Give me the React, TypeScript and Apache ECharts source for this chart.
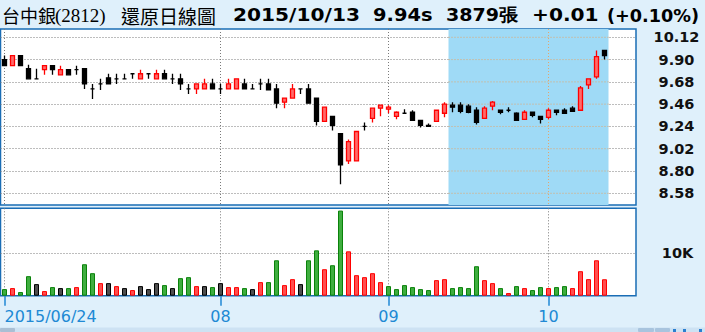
import React, { useEffect, useRef } from 'react';
import * as echarts from 'echarts';

const dates = [
  '2015/06/24', '2015/06/25', '2015/06/26', '2015/06/29', '2015/06/30',
  '2015/07/01', '2015/07/02', '2015/07/03', '2015/07/06', '2015/07/07', '2015/07/08', '2015/07/09',
  '2015/07/13', '2015/07/14', '2015/07/15', '2015/07/16', '2015/07/17', '2015/07/20', '2015/07/21',
  '2015/07/22', '2015/07/23', '2015/07/24', '2015/07/27', '2015/07/28', '2015/07/29', '2015/07/30', '2015/07/31',
  '2015/08/03', '2015/08/04', '2015/08/05', '2015/08/06', '2015/08/07', '2015/08/10', '2015/08/11',
  '2015/08/12', '2015/08/13', '2015/08/14', '2015/08/17', '2015/08/18', '2015/08/19', '2015/08/20',
  '2015/08/21', '2015/08/24', '2015/08/25', '2015/08/26', '2015/08/27', '2015/08/28', '2015/08/31',
  '2015/09/01', '2015/09/02', '2015/09/03', '2015/09/04', '2015/09/07', '2015/09/08', '2015/09/09',
  '2015/09/10', '2015/09/11', '2015/09/14', '2015/09/15', '2015/09/16', '2015/09/17', '2015/09/18',
  '2015/09/21', '2015/09/22', '2015/09/23', '2015/09/24', '2015/09/25', '2015/09/30',
  '2015/10/01', '2015/10/02', '2015/10/05', '2015/10/06', '2015/10/07', '2015/10/08', '2015/10/12', '2015/10/13',
];

const opens = [
  9.90, 9.84, 9.94, 9.81, 9.71, 9.80, 9.84, 9.75, 9.80, 9.80,
  9.81, 9.61, 9.66, 9.72, 9.71, 9.71, 9.76, 9.71, 9.76, 9.71,
  9.76, 9.71, 9.71, 9.61, 9.61, 9.61, 9.66, 9.61, 9.61, 9.61,
  9.66, 9.61, 9.66, 9.66, 9.61, 9.48, 9.52, 9.61, 9.61, 9.52,
  9.29, 9.34, 9.17, 8.90, 8.90, 9.24, 9.32, 9.42, 9.41, 9.34,
  9.37, 9.38, 9.30, 9.25, 9.29, 9.37, 9.45, 9.45, 9.44, 9.40,
  9.32, 9.44, 9.40, 9.40, 9.37, 9.31, 9.38, 9.34, 9.33, 9.40,
  9.40, 9.42, 9.40, 9.65, 9.73, 9.99,
];
const closes = [
  9.84, 9.94, 9.84, 9.71, 9.71, 9.84, 9.80, 9.80, 9.75, 9.80,
  9.66, 9.61, 9.66, 9.66, 9.71, 9.71, 9.76, 9.76, 9.76, 9.76,
  9.71, 9.71, 9.66, 9.61, 9.66, 9.66, 9.61, 9.61, 9.66, 9.71,
  9.61, 9.61, 9.66, 9.60, 9.47, 9.52, 9.61, 9.61, 9.47, 9.29,
  9.43, 9.25, 8.86, 9.09, 9.19, 9.24, 9.42, 9.45, 9.43, 9.38,
  9.37, 9.30, 9.25, 9.24, 9.40, 9.46, 9.43, 9.39, 9.38, 9.28,
  9.42, 9.48, 9.38, 9.40, 9.30, 9.38, 9.35, 9.31, 9.40, 9.38,
  9.37, 9.39, 9.62, 9.71, 9.93, 9.94,
];
const lows = [
  9.84, 9.84, 9.84, 9.71, 9.71, 9.75, 9.75, 9.75, 9.75, 9.75,
  9.61, 9.51, 9.60, 9.66, 9.66, 9.71, 9.71, 9.71, 9.71, 9.71,
  9.71, 9.66, 9.60, 9.56, 9.56, 9.61, 9.61, 9.56, 9.61, 9.61,
  9.61, 9.61, 9.60, 9.60, 9.42, 9.42, 9.52, 9.56, 9.47, 9.25,
  9.29, 9.20, 8.67, 8.87, 8.90, 9.20, 9.28, 9.34, 9.37, 9.31,
  9.37, 9.30, 9.23, 9.24, 9.29, 9.33, 9.38, 9.37, 9.37, 9.26,
  9.32, 9.40, 9.36, 9.38, 9.30, 9.31, 9.33, 9.27, 9.31, 9.35,
  9.37, 9.39, 9.40, 9.61, 9.71, 9.90,
];
const highs = [
  9.94, 9.94, 9.94, 9.85, 9.81, 9.84, 9.84, 9.84, 9.80, 9.84,
  9.81, 9.66, 9.71, 9.76, 9.76, 9.76, 9.76, 9.80, 9.76, 9.80,
  9.80, 9.76, 9.76, 9.66, 9.66, 9.71, 9.71, 9.66, 9.71, 9.71,
  9.71, 9.66, 9.71, 9.71, 9.66, 9.52, 9.66, 9.61, 9.66, 9.52,
  9.43, 9.34, 9.17, 9.11, 9.19, 9.28, 9.42, 9.45, 9.45, 9.39,
  9.41, 9.40, 9.30, 9.27, 9.40, 9.48, 9.48, 9.48, 9.46, 9.43,
  9.44, 9.49, 9.40, 9.43, 9.38, 9.40, 9.38, 9.34, 9.42, 9.40,
  9.42, 9.44, 9.64, 9.71, 9.99, 9.99,
];
const volumes = [
  1560, 1795, 858, 4605, 2732, 1093, 2030, 1795, 1795, 2030,
  7415, 5307, 2966, 2966, 2264, 1795, 1327, 2264, 1560, 2966,
  2498, 1795, 4137, 4371, 2264, 2264, 2030, 2966, 2030, 2030,
  1795, 1560, 3200, 3200, 8350, 2498, 3902, 2732, 8350, 10694,
  6244, 7181, 20062, 10460, 4840, 4371, 5307, 3200, 2264, 1560,
  2498, 2030, 1560, 1327, 3668, 3902, 1795, 2030, 1795, 6946,
  3668, 2966, 1795, 624, 2264, 1795, 1327, 2030, 1795, 2030,
  2264, 1795, 5776, 3902, 8350, 3879,
];
// r = close up, g = close down, k = unchanged
const volumeDirs = [
  'g', 'r', 'g', 'g', 'k', 'r', 'g', 'k', 'g', 'r',
  'g', 'g', 'r', 'k', 'r', 'k', 'r', 'k', 'k', 'k',
  'g', 'k', 'g', 'g', 'r', 'k', 'g', 'k', 'r', 'r',
  'g', 'k', 'r', 'g', 'g', 'r', 'r', 'k', 'g', 'g',
  'r', 'g', 'g', 'r', 'r', 'r', 'r', 'r', 'g', 'g',
  'g', 'g', 'g', 'g', 'r', 'r', 'g', 'g', 'g', 'g',
  'r', 'r', 'g', 'r', 'g', 'r', 'g', 'g', 'r', 'g',
  'g', 'r', 'r', 'r', 'r', 'r',
];

const xTickIndices = [0, 27, 48, 68];
const priceTicks = [8.58, 8.80, 9.02, 9.24, 9.46, 9.68, 9.90, 10.12];
const volumeTicks = [10000];
const highlightRange = [56, 75];
const stockName = '台中銀';
const stockCode = '(2812)';
const chartName = '還原日線圖';

const PRICE_MIN = 8.4645;
const PRICE_MAX = 10.2019;
const X_MIN = -0.5;
const X_MAX = 78.9375;
const VOL_MAX = 20600;

const BORDER = '#1a6db5';
const GRID_GREY = '#7a7a7a';
const BLUE_TEXT = '#2089d4';

const volStyle: Record<string, any> = {
  r: { color: '#ff4f4f', borderColor: '#ff0000', borderWidth: 1 },
  g: { color: '#3fae3f', borderColor: '#0a820a', borderWidth: 1 },
  k: { color: '#4f4f4f', borderColor: '#000000', borderWidth: 1 },
};

export default function App() {
  const ref = useRef<HTMLDivElement>(null);
  useEffect(() => {
    if (!ref.current) return;
    const chart = echarts.init(ref.current, undefined, { renderer: 'svg' });

    const n = dates.length;
    const last = n - 1;
    const lastClose = closes[last];
    const change = lastClose - closes[last - 1];
    const pct = (change / closes[last - 1]) * 100;
    const sign = change >= 0 ? '+' : '-';

    const candleData = dates.map((_, i) => {
      const item: any = { value: [i, opens[i], closes[i], lows[i], highs[i]] };
      if (opens[i] === closes[i]) {
        item.itemStyle = { color: '#000', color0: '#000', borderColor: '#000', borderColor0: '#000' };
      }
      return item;
    });
    const volData = volumes.map((v, i) => ({ value: [i, v], itemStyle: volStyle[volumeDirs[i]] }));

    const dotted = { color: GRID_GREY, width: 1, type: [1, 2] as any };
    const titleY = 15;
    const boldStyle = { fontFamily: 'DejaVu Sans', fontWeight: 'bold', fontSize: 18, fill: '#000', verticalAlign: 'middle', align: 'left' };
    const txt = (x: number, text: string, style: any, scaleX = 1) => ({
      type: 'text', x, y: titleY, scaleX, style: { text, verticalAlign: 'middle', align: 'left', fill: '#000', ...style },
    });

    const option: any = {
      animation: false,
      backgroundColor: '#dff0fb',
      grid: [
        { left: 0.5, top: 29, width: 635.5, height: 176, show: true, backgroundColor: '#ffffff', borderColor: BORDER, borderWidth: 1.5, containLabel: false, outerBoundsMode: 'none' },
        { left: 0.5, top: 208.3, width: 635.5, height: 87.4, show: true, backgroundColor: '#ffffff', borderColor: BORDER, borderWidth: 1.5, containLabel: false, outerBoundsMode: 'none' },
      ],
      xAxis: [
        {
          type: 'value', gridIndex: 0, min: X_MIN, max: X_MAX,
          axisLine: { show: false },
          axisTick: { show: false, customValues: xTickIndices },
          axisLabel: { show: false, customValues: xTickIndices },
          splitLine: { show: true, lineStyle: dotted },
        },
        {
          type: 'value', gridIndex: 1, min: X_MIN, max: X_MAX,
          axisLine: { show: false },
          axisTick: { show: true, length: 10, customValues: xTickIndices, lineStyle: { color: BLUE_TEXT, width: 1.5 } },
          axisLabel: {
            show: true, customValues: xTickIndices, margin: 13,
            color: BLUE_TEXT, fontFamily: 'DejaVu Sans', fontSize: 16,
            alignMinLabel: 'left', showMinLabel: true, showMaxLabel: true, hideOverlap: false,
            formatter: (v: number) => {
              const i = Math.round(v);
              return i === 0 ? dates[i] : dates[i].slice(5, 7);
            },
          },
          splitLine: { show: true, lineStyle: dotted },
        },
      ],
      yAxis: [
        {
          type: 'value', gridIndex: 0, position: 'right', min: PRICE_MIN, max: PRICE_MAX, scale: true,
          axisLine: { show: false },
          axisTick: { show: false, customValues: priceTicks },
          axisLabel: {
            show: true, customValues: priceTicks, align: 'center', margin: 40.5,
            color: '#111', fontFamily: 'DejaVu Sans', fontWeight: 'bold', fontSize: 14.5,
            formatter: (v: number) => v.toFixed(2),
          },
          splitLine: { show: true, lineStyle: dotted },
        },
        {
          type: 'value', gridIndex: 1, position: 'right', min: 0, max: VOL_MAX,
          axisLine: { show: false },
          axisTick: { show: false, customValues: volumeTicks },
          axisLabel: {
            show: true, customValues: volumeTicks, align: 'center', margin: 41.5,
            color: '#111', fontFamily: 'DejaVu Sans', fontWeight: 'bold', fontSize: 14.5,
            formatter: (v: number) => `${Math.round(v / 1000)}K`,
          },
          splitLine: { show: true, lineStyle: dotted },
        },
      ],
      series: [
        {
          type: 'custom', xAxisIndex: 0, yAxisIndex: 0, z: 1, silent: true,
          data: [highlightRange],
          encode: { x: [0, 1] },
          renderItem: (params: any, api: any) => {
            const s = api.value(0);
            const e = api.value(1);
            const cs = params.coordSys;
            const x0 = api.coord([s - 0.5, PRICE_MAX])[0];
            const x1 = api.coord([e + 0.5, PRICE_MAX])[0];
            const children: any[] = [
              { type: 'rect', shape: { x: x0, y: cs.y, width: x1 - x0, height: cs.height }, style: { fill: '#9fdaf6' } },
            ];
            priceTicks.forEach((p) => {
              const y = api.coord([s, p])[1];
              children.push({ type: 'line', shape: { x1: x0, y1: y, x2: x1, y2: y }, style: { stroke: '#e3a66c', lineWidth: 1, lineDash: [1, 2] } });
            });
            xTickIndices.forEach((t) => {
              if (t >= s && t <= e) {
                const x = api.coord([t, PRICE_MAX])[0];
                children.push({ type: 'line', shape: { x1: x, y1: cs.y, x2: x, y2: cs.y + cs.height }, style: { stroke: '#e3a66c', lineWidth: 1, lineDash: [1, 2] } });
              }
            });
            return { type: 'group', children };
          },
        },
        {
          type: 'candlestick', xAxisIndex: 0, yAxisIndex: 0, z: 3,
          barWidth: 5,
          encode: { x: 0, y: [1, 2, 3, 4] },
          itemStyle: { color: '#ff6a6a', color0: '#000000', borderColor: '#ff0000', borderColor0: '#000000', borderWidth: 1.3 },
          data: candleData,
        },
        {
          type: 'bar', xAxisIndex: 1, yAxisIndex: 1, barWidth: 5,
          encode: { x: 0, y: 1 },
          data: volData,
        },
      ],
      graphic: [
        txt(2, stockName, { fontFamily: 'Noto Sans CJK TC', fontSize: 18 }),
        txt(55, stockCode, { fontFamily: 'Liberation Serif', fontSize: 19 }),
        txt(121, chartName, { fontFamily: 'Noto Sans CJK TC', fontSize: 19 }),
        txt(233, dates[last], boldStyle, 1.12),
        txt(373, `${lastClose.toFixed(2)}s`, boldStyle, 1.08),
        txt(446, `${volumes[last]}張`, boldStyle, 1.06),
        txt(532, `${sign}${Math.abs(change).toFixed(2)}`, boldStyle, 1.12),
        txt(607, `(${sign}${Math.abs(pct).toFixed(2)}%)`, boldStyle, 0.98),
        { type: 'rect', x: 0, y: 327.5, shape: { width: 705, height: 4.5 }, style: { fill: '#cde2f3' } },
        { type: 'rect', x: 0, y: 328, shape: { width: 15, height: 4, r: 1 }, style: { fill: '#a9bfd4' } },
        { type: 'rect', x: 638, y: 328, shape: { width: 16, height: 4, r: 1 }, style: { fill: '#a8c4de' } },
        { type: 'rect', x: 655, y: 328, shape: { width: 15, height: 4, r: 1 }, style: { fill: '#a8c4de' } },
        { type: 'rect', x: 673, y: 329, shape: { width: 3, height: 3 }, style: { fill: '#2a7fd0' } },
        { type: 'rect', x: 683, y: 329, shape: { width: 3, height: 3 }, style: { fill: '#2a7fd0' } },
        { type: 'rect', x: 699, y: 329, shape: { width: 3, height: 3 }, style: { fill: '#2a7fd0' } },
      ],
    };

    chart.setOption(option);
    return () => chart.dispose();
  }, []);

  return <div ref={ref} style={{ position: 'absolute', left: 0, top: 0, width: 705, height: 332 }} />;
}
